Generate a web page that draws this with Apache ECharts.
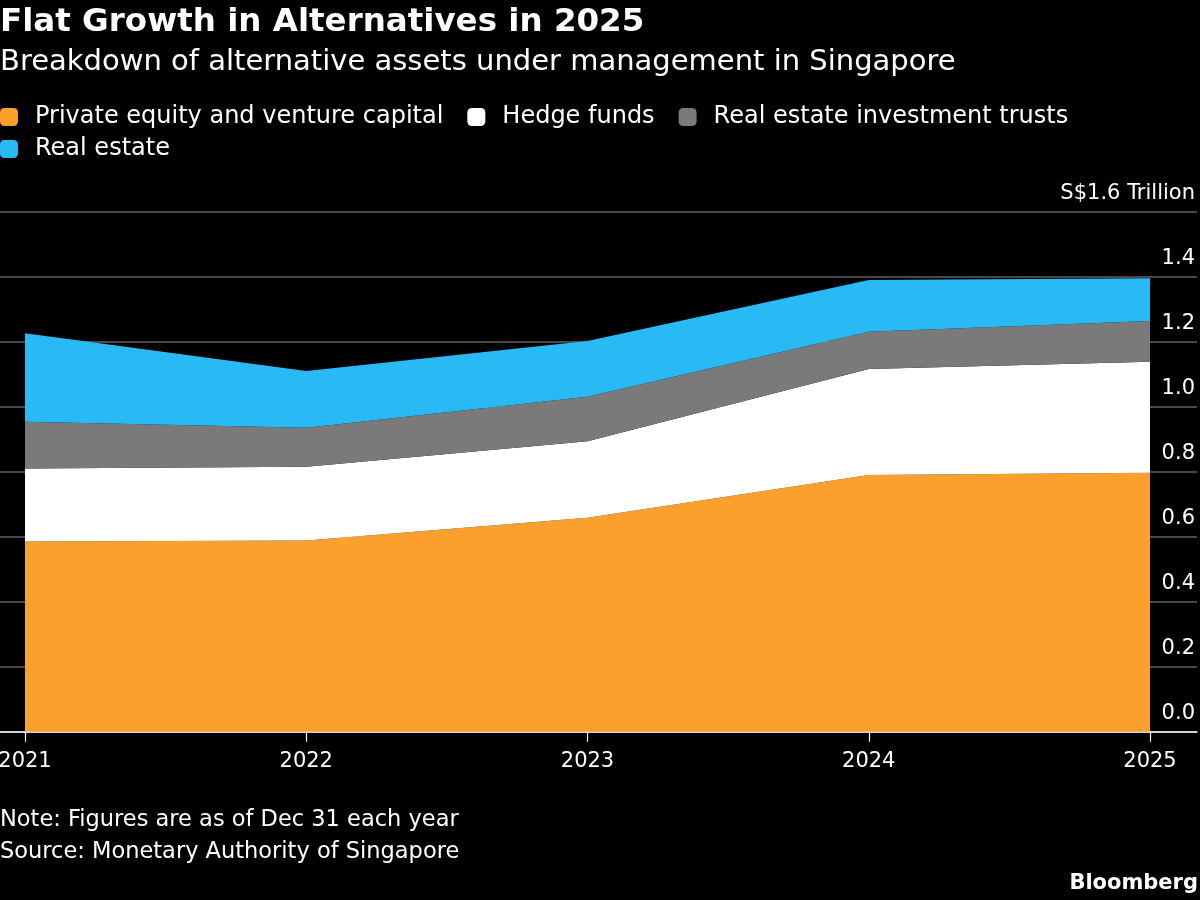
<!DOCTYPE html>
<html>
<head>
<meta charset="utf-8">
<script src="https://cdn.jsdelivr.net/npm/echarts@6/dist/echarts.min.js"></script>
<style>
html,body{margin:0;padding:0;background:#000;}
#chart{width:1200px;height:900px;}
</style>
</head>
<body>
<div id="chart"></div>
<script>
const years = ['2021', '2022', '2023', '2024', '2025'];
const privateEquity = [0.585, 0.588, 0.658, 0.790, 0.797];
const hedgeFunds = [0.225, 0.227, 0.236, 0.326, 0.341];
const reits = [0.144, 0.120, 0.137, 0.115, 0.126];
const realEstate = [0.272, 0.175, 0.171, 0.159, 0.131];
const seriesNames = ['Private equity and venture capital', 'Hedge funds', 'Real estate investment trusts', 'Real estate'];
const yTicks = [0, 0.2, 0.4, 0.6, 0.8, 1.0, 1.2, 1.4, 1.6];

const FONT = 'DejaVu Sans';
const colors = ['#FBA02D', '#FFFFFF', '#7A7A7A', '#29BAF6'];
const values = [privateEquity, hedgeFunds, reits, realEstate];

const legendBase = {
  left: 0, width: 1200, padding: 0,
  itemWidth: 18, itemHeight: 18, itemGap: 24,
  icon: 'roundRect',
  textStyle: { color: '#fff', fontSize: 24, fontFamily: FONT, padding: [0, 0, 0, 12] },
  selectedMode: false
};

const chart = echarts.init(document.getElementById('chart'));
chart.setOption({
  backgroundColor: '#000',
  animation: false,
  textStyle: { fontFamily: FONT },
  title: [
    { text: 'Flat Growth in Alternatives in 2025', left: 0, top: 6, padding: 0,
      textStyle: { color: '#fff', fontSize: 32.5, fontWeight: 'bold', fontFamily: FONT } },
    { text: 'Breakdown of alternative assets under management in Singapore', left: 0, top: 48, padding: 0,
      textStyle: { color: '#fff', fontSize: 29, fontWeight: 'normal', fontFamily: FONT } },
    { text: 'Note: Figures are as of Dec 31 each year', left: 0, top: 809, padding: 0,
      textStyle: { color: '#fff', fontSize: 22.5, fontWeight: 'normal', fontFamily: FONT } },
    { text: 'Source: Monetary Authority of Singapore', left: 0, top: 841, padding: 0,
      textStyle: { color: '#fff', fontSize: 22.5, fontWeight: 'normal', fontFamily: FONT } },
    { text: 'Bloomberg', right: 2, top: 873, padding: 0,
      textStyle: { color: '#fff', fontSize: 21, fontWeight: 'bold', fontFamily: FONT } }
  ],
  legend: [
    Object.assign({}, legendBase, { top: 105, data: seriesNames.slice(0, 3) }),
    Object.assign({}, legendBase, { top: 137, data: seriesNames.slice(3) })
  ],
  grid: [
    { left: 0, right: 3, top: 211.7, bottom: 168.3, outerBoundsMode: 'none', containLabel: false },
    { left: 25, right: 50, top: 211.7, bottom: 168.3, outerBoundsMode: 'none', containLabel: false }
  ],
  xAxis: [
    { gridIndex: 0, type: 'value', min: 0, max: 1,
      axisLine: { show: true, lineStyle: { color: '#fff', width: 1.5 } },
      axisTick: { show: false }, axisLabel: { show: false }, splitLine: { show: false } },
    { gridIndex: 1, type: 'category', data: years, boundaryGap: false,
      axisLine: { show: false },
      axisTick: { show: true, length: 10, lineStyle: { color: '#fff', width: 1.2 } },
      axisLabel: { color: '#fff', fontSize: 21, margin: 19, fontFamily: FONT },
      splitLine: { show: false } }
  ],
  yAxis: [
    { gridIndex: 0, type: 'value', position: 'right', min: 0, max: 1.6, interval: 0.2,
      axisLine: { show: false }, axisTick: { show: false },
      axisLabel: { inside: true, margin: 2, color: '#fff', fontSize: 21, fontFamily: FONT,
        verticalAlign: 'bottom', padding: [0, 0, 8, 0],
        formatter: v => Math.abs(v - 1.6) < 1e-9 ? 'S$1.6 Trillion' : v.toFixed(1) },
      splitLine: { show: true, lineStyle: { color: '#606060', width: 1.5 } } },
    { gridIndex: 1, type: 'value', min: 0, max: 1.6, interval: 0.2, show: false }
  ],
  series: seriesNames.map((name, i) => ({
    name: name,
    type: 'line',
    xAxisIndex: 1, yAxisIndex: 1,
    stack: 'total',
    data: values[i],
    symbol: 'none',
    lineStyle: { width: 0 },
    itemStyle: { color: colors[i] },
    areaStyle: { color: colors[i], opacity: 1 }
  }))
});
</script>
</body>
</html>
